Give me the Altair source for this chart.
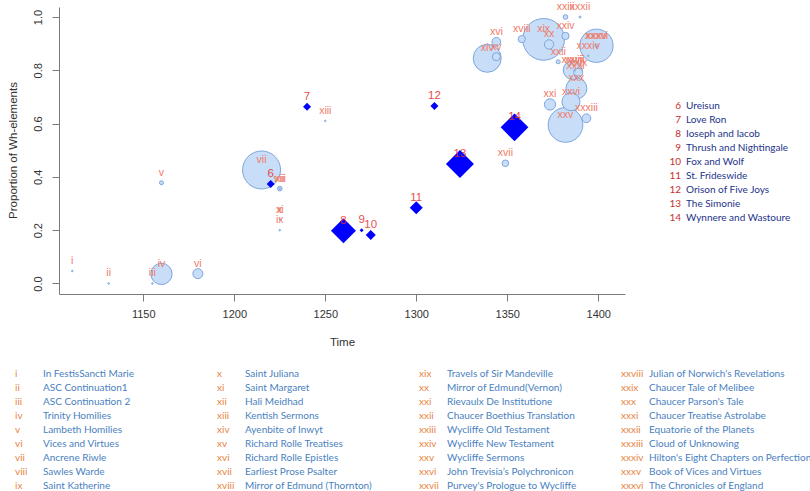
import altair as alt
import pandas as pd

# ---- Prose texts (light blue bubbles, roman numerals) ----
prose_ids = ["i", "ii", "iii", "iv", "v", "vi", "vii", "viii", "ix", "x", "xi", "xii",
             "xiii", "xiv", "xv", "xvi", "xvii", "xviii", "xix", "xx", "xxi", "xxii",
             "xxiii", "xxiv", "xxv", "xxvi", "xxvii", "xxviii", "xxix", "xxx", "xxxi",
             "xxxii", "xxxiii", "xxxiv", "xxxv", "xxxvi"]
prose_titles = ["In FestisSancti Marie", "ASC Continuation1", "ASC Continuation 2",
                "Trinity Homilies", "Lambeth Homilies", "Vices and Virtues",
                "Ancrene Riwle", "Sawles Warde", "Saint Katherine",
                "Saint Juliana", "Saint Margaret", "Hali Meidhad",
                "Kentish Sermons", "Ayenbite of Inwyt", "Richard Rolle Treatises",
                "Richard Rolle Epistles", "Earliest Prose Psalter", "Mirror of Edmund (Thornton)",
                "Travels of Sir Mandeville", "Mirror of Edmund(Vernon)", "Rievaulx De Institutione",
                "Chaucer Boethius Translation", "Wycliffe Old Testament", "Wycliffe New Testament",
                "Wycliffe Sermons", "John Trevisia\u2019s Polychronicon", "Purvey's Prologue to Wycliffe",
                "Julian of Norwich's Revelations", "Chaucer Tale of Melibee", "Chaucer Parson's Tale",
                "Chaucer Treatise Astrolabe", "Equatorie of the Planets", "Cloud of Unknowing",
                "Hilton's Eight Chapters on Perfection", "Book of Vices and Virtues", "The Chronicles of England"]
prose_years = [1111, 1131, 1155, 1160, 1160, 1180, 1215, 1225, 1225, 1225, 1225, 1225,
               1250, 1339, 1344, 1344, 1349, 1358, 1370, 1373, 1373.5, 1378,
               1382, 1382, 1382, 1385, 1387, 1386, 1389, 1388, 1387.5,
               1390, 1393.5, 1394.5, 1399, 1399]
prose_props = [0.047, 0.0, 0.0, 0.036, 0.378, 0.037, 0.426, 0.356, 0.20, 0.24, 0.24, 0.356,
               0.61, 0.845, 0.851, 0.907, 0.451, 0.917, 0.916, 0.897, 0.672, 0.832,
               1.0, 0.929, 0.595, 0.682, 0.80, 0.801, 0.791, 0.732, 0.78,
               1.0, 0.62, 0.854, 0.892, 0.892]
prose_weights = [0.6, 0.6, 0.6, 113, 4, 25, 361, 5.5, 0.6, 0.2, 0.2, 0.6,
                 0.6, 196, 16, 19, 11, 13, 435, 22, 32, 4,
                 5.5, 13, 301, 81, 0.6, 90, 20, 110, 0.6,
                 1, 19, 0.6, 2, 277]

# ---- Verse texts (blue diamonds, arabic numbers) ----
verse_ids = ["6", "7", "8", "9", "10", "11", "12", "13", "14"]
verse_titles = ["Ureisun", "Love Ron", "Ioseph and Iacob", "Thrush and Nightingale",
                "Fox and Wolf", "St. Frideswide", "Orison of Five Joys", "The Simonie",
                "Wynnere and Wastoure"]
verse_years = [1220, 1240, 1260, 1270, 1275, 1300, 1310, 1324, 1354]
verse_props = [0.373, 0.663, 0.198, 0.20, 0.182, 0.284, 0.666, 0.448, 0.586]
verse_weights = [16, 16, 156, 4, 25, 42, 16, 196, 192]

year_ticks = [1150, 1200, 1250, 1300, 1350, 1400]
prop_ticks = [0.0, 0.2, 0.4, 0.6, 0.8, 1.0]

prose = pd.DataFrame({"id": prose_ids, "title": prose_titles, "year": prose_years,
                      "prop": prose_props, "weight": prose_weights})
verse = pd.DataFrame({"id": verse_ids, "title": verse_titles, "year": verse_years,
                      "prop": verse_props, "weight": verse_weights})

prose["idx"] = range(len(prose))
verse["idx"] = range(len(verse))

W, H = 566, 287
LEFT, TOP = 59, 7
AXIS_FONT = "Liberation Sans"
KEY_FONT = "Lato"

x_scale = alt.Scale(domain=[1103.7, 1414.7], nice=False, zero=False)
y_scale = alt.Scale(domain=[-0.0394, 1.0375], nice=False, zero=False)
size_scale = alt.Scale(type="linear", domain=[0, 500], range=[0, 2000], zero=True)

x_axis = alt.Axis(values=year_ticks, format="d", title="Time", grid=False,
                  tickSize=7, labelPadding=7, domainColor="#7a7a7a", tickColor="#7a7a7a",
                  labelColor="#333333", titleColor="#333333", labelFont=AXIS_FONT,
                  titleFont=AXIS_FONT, labelFontSize=11, titleFontSize=11.5,
                  titleFontWeight="normal", titleX=W / 2, titleY=48,
                  titleBaseline="middle", labelFlush=False)
y_axis = alt.Axis(values=prop_ticks, format=".1f", title="Proportion of Wh-elements",
                  grid=False, tickSize=7, labelPadding=14, labelAngle=-90,
                  labelAlign="center", labelBaseline="middle",
                  domainColor="#7a7a7a", tickColor="#7a7a7a", labelColor="#333333",
                  titleColor="#333333", labelFont=AXIS_FONT, titleFont=AXIS_FONT,
                  labelFontSize=11, titleFontSize=11.5, titleFontWeight="normal",
                  titleX=-46, titleY=H / 2 - 0.5, titleBaseline="middle",
                  titleAngle=-90, labelFlush=False)

enc_x = alt.X("year:Q", scale=x_scale, axis=x_axis)
enc_y = alt.Y("prop:Q", scale=y_scale, axis=y_axis)
enc_size = alt.Size("weight:Q", scale=size_scale, legend=None)

bubbles = alt.Chart(prose).mark_circle(
    fill="#c8ddf7", stroke="#7da6dc", strokeWidth=1, opacity=1
).encode(x=enc_x, y=enc_y, size=enc_size,
         order=alt.Order("weight:Q", sort="descending"))

bubble_labels = alt.Chart(prose).mark_text(
    dy=-10, font=AXIS_FONT, fontSize=10.5, color="#f07a68", baseline="middle"
).encode(x=enc_x, y=enc_y, text="id:N")

diamonds = alt.Chart(verse).mark_point(
    shape="diamond", filled=True, color="#0000ff", opacity=1, strokeWidth=0
).encode(x=enc_x, y=enc_y, size=enc_size)

diamond_labels = alt.Chart(verse).mark_text(
    dy=-10, font=AXIS_FONT, fontSize=11.5, color="#e5302e", opacity=0.85,
    baseline="middle"
).encode(x=enc_x, y=enc_y, text="id:N")

plot = alt.layer(bubbles, bubble_labels, diamonds, diamond_labels)

# ---- key of prose texts: four columns of nine rows below the plot ----
table = alt.Chart(prose).transform_calculate(
    col="floor(datum.idx / 9)", row="datum.idx % 9"
).transform_calculate(
    nx=f"15 - {LEFT} + 202 * datum.col",
    tx=f"43 - {LEFT} + 202 * datum.col",
    ty=f"373.5 - {TOP} + 14.05 * datum.row",
)
table_ids = table.mark_text(align="left", baseline="middle", font=KEY_FONT,
                            fontSize=10, color="#e8843e").encode(
    x=alt.X("nx:Q", scale=None, axis=None), y=alt.Y("ty:Q", scale=None, axis=None),
    text="id:N")
table_titles = table.mark_text(align="left", baseline="middle", font=KEY_FONT,
                               fontSize=10, color="#4a7fc0").encode(
    x=alt.X("tx:Q", scale=None, axis=None), y=alt.Y("ty:Q", scale=None, axis=None),
    text="title:N")

# ---- key of verse texts to the right of the plot ----
key = alt.Chart(verse).transform_calculate(
    nx=f"681 - {LEFT}", tx=f"686 - {LEFT}", ty=f"106 - {TOP} + 14 * datum.idx"
)
key_ids = key.mark_text(align="right", baseline="middle", font=KEY_FONT,
                        fontSize=10, color="#c9302c").encode(
    x=alt.X("nx:Q", scale=None, axis=None), y=alt.Y("ty:Q", scale=None, axis=None),
    text="id:N")
key_titles = key.mark_text(align="left", baseline="middle", font=KEY_FONT,
                           fontSize=10, color="#24338a").encode(
    x=alt.X("tx:Q", scale=None, axis=None), y=alt.Y("ty:Q", scale=None, axis=None),
    text="title:N")

chart = alt.layer(plot, table_ids, table_titles, key_ids, key_titles).resolve_scale(
    x="independent", y="independent"
).properties(
    width=W, height=H,
    autosize=alt.AutoSizeParams(type="none"),
    padding={"left": LEFT, "top": TOP, "right": 810 - LEFT - W, "bottom": 491 - TOP - H},
    background="white",
).configure_view(stroke=None)

chart.save("out.html", embed_options={"renderer": "svg", "actions": False})
